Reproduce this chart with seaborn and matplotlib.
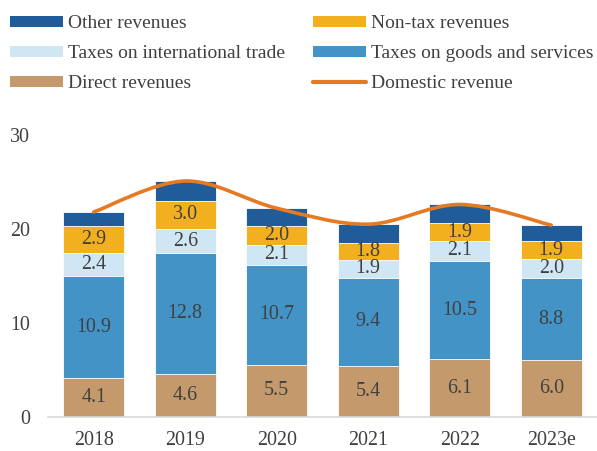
import numpy as np
import pandas as pd
import matplotlib
matplotlib.use("Agg")
import matplotlib.pyplot as plt
import seaborn as sns
from matplotlib.path import Path
from matplotlib.patches import PathPatch, Patch
from matplotlib.lines import Line2D

years = ["2018", "2019", "2020", "2021", "2022", "2023e"]
direct = [4.1, 4.6, 5.5, 5.4, 6.1, 6.0]
goods = [10.9, 12.8, 10.7, 9.4, 10.5, 8.8]
intl = [2.4, 2.6, 2.1, 1.9, 2.1, 2.0]
nontax = [2.9, 3.0, 2.0, 1.8, 1.9, 1.9]
other = [1.5, 2.1, 1.9, 2.0, 2.0, 1.7]
domestic = [21.8, 25.1, 22.2, 20.5, 22.6, 20.4]

names = ["Direct revenues", "Taxes on goods and services",
         "Taxes on international trade", "Non-tax revenues", "Other revenues"]
colors = ["#C49A6C", "#4393C6", "#CFE6F4", "#F2B01E", "#1F5C99"]
line_color = "#E67A22"
text_color = "#404040"

sns.set_theme(style="white")
plt.rcParams["font.family"] = ["Liberation Serif", "DejaVu Serif"]
plt.rcParams["text.color"] = text_color

fig = plt.figure(figsize=(5.97, 4.51), dpi=100)
ax = fig.add_axes([48 / 597, 1 - 416.7 / 451, 1 - 48 / 597, (416.7 - 135) / 451])

layers = [direct, goods, intl, nontax, other]
cum = np.cumsum(np.array(layers), axis=0)
df = pd.DataFrame({"year": years})
for i in range(len(layers) - 1, -1, -1):
    df["v"] = cum[i]
    sns.barplot(data=df, x="year", y="v", order=years, color=colors[i],
                width=0.67, edgecolor="white", linewidth=0.6,
                saturation=1, ax=ax, zorder=2)

fs = 14.4
for i in range(4):
    for j in range(len(years)):
        ax.text(j, cum[i][j] - layers[i][j] / 2, f"{layers[i][j]:.1f}",
                ha="center", va="center", fontsize=fs, color=text_color, zorder=4)

# smoothed line (Catmull-Rom style Bezier)
xs = np.arange(len(years), dtype=float)
pts = np.column_stack([xs, domestic])
verts = [pts[0]]
codes = [Path.MOVETO]
n = len(pts)
for k in range(n - 1):
    p0 = pts[k - 1] if k > 0 else pts[k]
    p1 = pts[k]
    p2 = pts[k + 1]
    p3 = pts[k + 2] if k + 2 < n else pts[k + 1]
    c1 = p1 + (p2 - p0) / 6
    c2 = p2 - (p3 - p1) / 6
    verts += [c1, c2, p2]
    codes += [Path.CURVE4] * 3
ax.add_patch(PathPatch(Path(verts, codes), fill=False, edgecolor=line_color,
                       lw=2.6, capstyle="round", zorder=5))

ax.set_xlim(-0.5, 5.5)
ax.set_ylim(0, 30)
ax.set_yticks([0, 10, 20, 30])
ax.set_xlabel("")
ax.set_ylabel("")
for s in ["top", "right", "left"]:
    ax.spines[s].set_visible(False)
ax.spines["bottom"].set_color("#D9D9D9")
ax.spines["bottom"].set_linewidth(1.2)
ax.tick_params(axis="y", length=0, pad=13, labelsize=fs, labelcolor=text_color)
ax.tick_params(axis="x", which="major", length=0, pad=10.5, labelsize=fs, labelcolor=text_color)
ax.set_xticks(np.arange(-0.5, 6, 1), minor=True)
ax.tick_params(axis="x", which="minor", length=4.5, width=1.2, color="#D9D9D9")
ax.set_xticklabels(years)

lfs = 14
h = {nm: Patch(facecolor=c, edgecolor="none") for nm, c in zip(names, colors)}
line_h = Line2D([], [], color=line_color, lw=3, solid_capstyle="round")
common = dict(frameon=False, fontsize=lfs, handlelength=2.7, handleheight=0.5,
              handletextpad=0.3, labelspacing=0.66, borderpad=0, borderaxespad=0,
              loc="upper left")
leg1 = fig.legend([h["Other revenues"], h["Taxes on international trade"], h["Direct revenues"]],
                  ["Other revenues", "Taxes on international trade", "Direct revenues"],
                  bbox_to_anchor=(10 / 597, 1 - 15.5 / 451), **common)
leg2 = fig.legend([h["Non-tax revenues"], h["Taxes on goods and services"], line_h],
                  ["Non-tax revenues", "Taxes on goods and services", "Domestic revenue"],
                  bbox_to_anchor=(313 / 597, 1 - 15.5 / 451), **common)
for lg in (leg1, leg2):
    for t in lg.get_texts():
        t.set_color(text_color)

fig.savefig("out.png", dpi=100)
